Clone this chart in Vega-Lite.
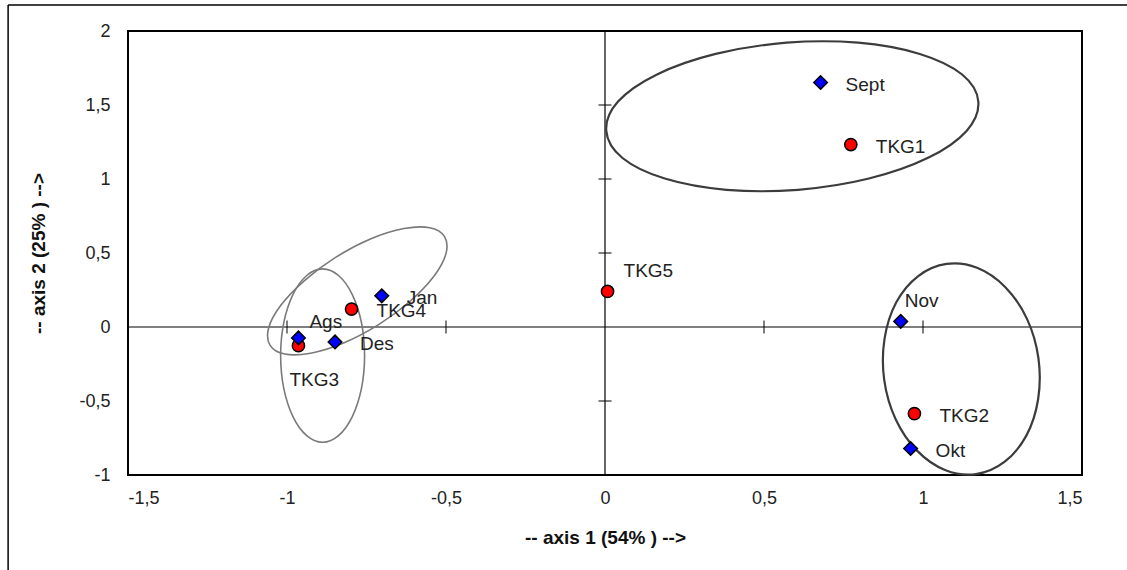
{
  "$schema": "https://vega.github.io/schema/vega-lite/v6.json",
  "width": 954,
  "height": 444,
  "autosize": {"type": "none"},
  "padding": {"left": 128, "top": 31, "right": 45, "bottom": 95},
  "background": "white",
  "config": {
    "view": {"stroke": "#000000", "strokeWidth": 2},
    "font": "Liberation Sans",
    "axis": {"grid": false, "domain": false, "ticks": false, "labelFont": "Liberation Sans", "labelFontSize": 18, "labelColor": "#222222", "titleFont": "Liberation Sans", "titleFontSize": 19, "titleFontWeight": "bold", "titleColor": "#111111"}
  },
  "datasets": {
    "points": [
      {"name": "TKG1", "type": "site", "x": 0.773, "y": 1.233},
      {"name": "TKG2", "type": "site", "x": 0.973, "y": -0.585},
      {"name": "TKG3", "type": "site", "x": -0.964, "y": -0.126},
      {"name": "TKG4", "type": "site", "x": -0.797, "y": 0.121},
      {"name": "TKG5", "type": "site", "x": 0.008, "y": 0.24},
      {"name": "Sept", "type": "month", "x": 0.678, "y": 1.652},
      {"name": "Okt", "type": "month", "x": 0.961, "y": -0.821},
      {"name": "Nov", "type": "month", "x": 0.93, "y": 0.038},
      {"name": "Des", "type": "month", "x": -0.849, "y": -0.101},
      {"name": "Jan", "type": "month", "x": -0.702, "y": 0.211},
      {"name": "Ags", "type": "month", "x": -0.964, "y": -0.074}
    ],
    "ellipses": [
      {"e": "A", "i": 0, "x": 1.174, "y": 1.523},
      {"e": "A", "i": 1, "x": 1.137, "y": 1.325},
      {"e": "A", "i": 2, "x": 1.016, "y": 1.143},
      {"e": "A", "i": 3, "x": 0.83, "y": 1.003},
      {"e": "A", "i": 4, "x": 0.607, "y": 0.927},
      {"e": "A", "i": 5, "x": 0.382, "y": 0.927},
      {"e": "A", "i": 6, "x": 0.188, "y": 1.003},
      {"e": "A", "i": 7, "x": 0.055, "y": 1.142},
      {"e": "A", "i": 8, "x": 0.004, "y": 1.325},
      {"e": "A", "i": 9, "x": 0.041, "y": 1.523},
      {"e": "A", "i": 10, "x": 0.162, "y": 1.705},
      {"e": "A", "i": 11, "x": 0.348, "y": 1.845},
      {"e": "A", "i": 12, "x": 0.571, "y": 1.921},
      {"e": "A", "i": 13, "x": 0.796, "y": 1.921},
      {"e": "A", "i": 14, "x": 0.99, "y": 1.845},
      {"e": "A", "i": 15, "x": 1.123, "y": 1.706},
      {"e": "B", "i": 0, "x": 1.363, "y": -0.211},
      {"e": "B", "i": 1, "x": 1.327, "y": 0.055},
      {"e": "B", "i": 2, "x": 1.259, "y": 0.269},
      {"e": "B", "i": 3, "x": 1.17, "y": 0.4},
      {"e": "B", "i": 4, "x": 1.074, "y": 0.426},
      {"e": "B", "i": 5, "x": 0.985, "y": 0.344},
      {"e": "B", "i": 6, "x": 0.916, "y": 0.167},
      {"e": "B", "i": 7, "x": 0.879, "y": -0.08},
      {"e": "B", "i": 8, "x": 0.878, "y": -0.357},
      {"e": "B", "i": 9, "x": 0.914, "y": -0.623},
      {"e": "B", "i": 10, "x": 0.982, "y": -0.837},
      {"e": "B", "i": 11, "x": 1.071, "y": -0.968},
      {"e": "B", "i": 12, "x": 1.167, "y": -0.994},
      {"e": "B", "i": 13, "x": 1.256, "y": -0.912},
      {"e": "B", "i": 14, "x": 1.325, "y": -0.734},
      {"e": "B", "i": 15, "x": 1.362, "y": -0.488},
      {"e": "C", "i": 0, "x": -0.505, "y": 0.612},
      {"e": "C", "i": 1, "x": -0.5, "y": 0.496},
      {"e": "C", "i": 2, "x": -0.538, "y": 0.343},
      {"e": "C", "i": 3, "x": -0.613, "y": 0.174},
      {"e": "C", "i": 4, "x": -0.712, "y": 0.016},
      {"e": "C", "i": 5, "x": -0.822, "y": -0.108},
      {"e": "C", "i": 6, "x": -0.926, "y": -0.177},
      {"e": "C", "i": 7, "x": -1.007, "y": -0.183},
      {"e": "C", "i": 8, "x": -1.053, "y": -0.124},
      {"e": "C", "i": 9, "x": -1.058, "y": -0.008},
      {"e": "C", "i": 10, "x": -1.02, "y": 0.145},
      {"e": "C", "i": 11, "x": -0.945, "y": 0.314},
      {"e": "C", "i": 12, "x": -0.846, "y": 0.472},
      {"e": "C", "i": 13, "x": -0.736, "y": 0.596},
      {"e": "C", "i": 14, "x": -0.632, "y": 0.665},
      {"e": "C", "i": 15, "x": -0.551, "y": 0.671},
      {"e": "D", "i": 0, "x": -0.756, "y": -0.193},
      {"e": "D", "i": 1, "x": -0.766, "y": 0.031},
      {"e": "D", "i": 2, "x": -0.795, "y": 0.221},
      {"e": "D", "i": 3, "x": -0.838, "y": 0.348},
      {"e": "D", "i": 4, "x": -0.888, "y": 0.393},
      {"e": "D", "i": 5, "x": -0.938, "y": 0.348},
      {"e": "D", "i": 6, "x": -0.981, "y": 0.221},
      {"e": "D", "i": 7, "x": -1.01, "y": 0.031},
      {"e": "D", "i": 8, "x": -1.02, "y": -0.193},
      {"e": "D", "i": 9, "x": -1.01, "y": -0.417},
      {"e": "D", "i": 10, "x": -0.981, "y": -0.607},
      {"e": "D", "i": 11, "x": -0.938, "y": -0.734},
      {"e": "D", "i": 12, "x": -0.888, "y": -0.779},
      {"e": "D", "i": 13, "x": -0.838, "y": -0.734},
      {"e": "D", "i": 14, "x": -0.795, "y": -0.607},
      {"e": "D", "i": 15, "x": -0.766, "y": -0.417}
    ],
    "xticks": [{"v": -1}, {"v": -0.5}, {"v": 0.5}, {"v": 1}],
    "yticks": [{"v": -0.5}, {"v": 0.5}, {"v": 1}, {"v": 1.5}],
    "one": [{"k": 0}]
  },
  "layer": [
    {
      "data": {"name": "points"},
      "mark": {"type": "point", "opacity": 0},
      "encoding": {
        "x": {"field": "x", "type": "quantitative", "scale": {"domain": [-1.5, 1.5], "nice": false, "zero": false},
          "axis": {"values": [-1.5, -1, -0.5, 0, 0.5, 1, 1.5], "labelExpr": "replace(toString(datum.value), '.', ',')", "labelPadding": 14, "title": "-- axis 1 (54% ) -->", "titlePadding": 21}},
        "y": {"field": "y", "type": "quantitative", "scale": {"domain": [-1, 2], "nice": false, "zero": false},
          "axis": {"values": [-1, -0.5, 0, 0.5, 1, 1.5, 2], "labelExpr": "replace(toString(datum.value), '.', ',')", "labelPadding": 18, "title": "-- axis 2 (25% ) -->", "titlePadding": 30}}
      }
    },
    {
      "data": {"name": "one"},
      "mark": {"type": "rule", "stroke": "#000000", "strokeWidth": 1.5, "clip": false},
      "encoding": {
        "x": {"datum": -1.877, "type": "quantitative"},
        "x2": {"datum": 1.65},
        "y": {"datum": 2.176, "type": "quantitative"}
      }
    },
    {
      "data": {"name": "one"},
      "mark": {"type": "rule", "stroke": "#000000", "strokeWidth": 1.5, "clip": false},
      "encoding": {
        "x": {"datum": -1.877, "type": "quantitative"},
        "y": {"datum": 2.176, "type": "quantitative"},
        "y2": {"datum": -1.65}
      }
    },
    {
      "data": {"name": "one"},
      "mark": {"type": "rule", "stroke": "#000000", "strokeWidth": 1.2},
      "encoding": {"x": {"datum": 0, "type": "quantitative"}}
    },
    {
      "data": {"name": "one"},
      "mark": {"type": "rule", "stroke": "#000000", "strokeWidth": 1.2},
      "encoding": {"y": {"datum": 0, "type": "quantitative"}}
    },
    {
      "data": {"name": "xticks"},
      "mark": {"type": "tick", "orient": "vertical", "size": 13, "thickness": 1, "color": "#000000", "opacity": 1},
      "encoding": {"x": {"field": "v", "type": "quantitative"}, "y": {"datum": 0, "type": "quantitative"}}
    },
    {
      "data": {"name": "yticks"},
      "mark": {"type": "tick", "orient": "horizontal", "size": 13, "thickness": 1, "color": "#000000", "opacity": 1},
      "encoding": {"y": {"field": "v", "type": "quantitative"}, "x": {"datum": 0, "type": "quantitative"}}
    },
    {
      "data": {"name": "ellipses"},
      "transform": [{"filter": "datum.e === 'A' || datum.e === 'B'"}],
      "mark": {"type": "line", "interpolate": "cardinal-closed", "stroke": "#3c3c3c", "strokeWidth": 2.2},
      "encoding": {
        "x": {"field": "x", "type": "quantitative"},
        "y": {"field": "y", "type": "quantitative"},
        "detail": {"field": "e"},
        "order": {"field": "i", "type": "quantitative"}
      }
    },
    {
      "data": {"name": "ellipses"},
      "transform": [{"filter": "datum.e === 'C' || datum.e === 'D'"}],
      "mark": {"type": "line", "interpolate": "cardinal-closed", "stroke": "#7a7a7a", "strokeWidth": 1.6},
      "encoding": {
        "x": {"field": "x", "type": "quantitative"},
        "y": {"field": "y", "type": "quantitative"},
        "detail": {"field": "e"},
        "order": {"field": "i", "type": "quantitative"}
      }
    },
    {
      "data": {"name": "points"},
      "mark": {"type": "point", "filled": true, "stroke": "#000000", "strokeWidth": 1.5, "opacity": 1},
      "encoding": {
        "x": {"field": "x", "type": "quantitative"},
        "y": {"field": "y", "type": "quantitative"},
        "shape": {"field": "type", "type": "nominal", "scale": {"domain": ["site", "month"], "range": ["circle", "diamond"]}, "legend": null},
        "fill": {"field": "type", "type": "nominal", "scale": {"domain": ["site", "month"], "range": ["#ff0000", "#0000ff"]}, "legend": null},
        "size": {"field": "type", "type": "nominal", "scale": {"domain": ["site", "month"], "range": [150, 185]}, "legend": null}
      }
    },
    {
      "data": {"name": "points"},
      "transform": [{"filter": "indexof(['Sept','TKG1','TKG2','Okt','Jan','TKG4','Des'], datum.name) >= 0"}],
      "mark": {"type": "text", "align": "left", "baseline": "middle", "dx": 25, "dy": 2, "fontSize": 19, "font": "Liberation Sans", "fill": "#222222"},
      "encoding": {"x": {"field": "x", "type": "quantitative"}, "y": {"field": "y", "type": "quantitative"}, "text": {"field": "name"}}
    },
    {
      "data": {"name": "points"},
      "transform": [{"filter": "datum.name === 'TKG5'"}],
      "mark": {"type": "text", "align": "left", "baseline": "middle", "dx": 16, "dy": -20, "fontSize": 19, "font": "Liberation Sans", "fill": "#222222"},
      "encoding": {"x": {"field": "x", "type": "quantitative"}, "y": {"field": "y", "type": "quantitative"}, "text": {"field": "name"}}
    },
    {
      "data": {"name": "points"},
      "transform": [{"filter": "datum.name === 'Nov'"}],
      "mark": {"type": "text", "align": "left", "baseline": "middle", "dx": 4, "dy": -20, "fontSize": 19, "font": "Liberation Sans", "fill": "#222222"},
      "encoding": {"x": {"field": "x", "type": "quantitative"}, "y": {"field": "y", "type": "quantitative"}, "text": {"field": "name"}}
    },
    {
      "data": {"name": "points"},
      "transform": [{"filter": "datum.name === 'Ags'"}],
      "mark": {"type": "text", "align": "left", "baseline": "middle", "dx": 11, "dy": -16, "fontSize": 19, "font": "Liberation Sans", "fill": "#222222"},
      "encoding": {"x": {"field": "x", "type": "quantitative"}, "y": {"field": "y", "type": "quantitative"}, "text": {"field": "name"}}
    },
    {
      "data": {"name": "points"},
      "transform": [{"filter": "datum.name === 'TKG3'"}],
      "mark": {"type": "text", "align": "left", "baseline": "middle", "dx": -9, "dy": 34, "fontSize": 19, "font": "Liberation Sans", "fill": "#222222"},
      "encoding": {"x": {"field": "x", "type": "quantitative"}, "y": {"field": "y", "type": "quantitative"}, "text": {"field": "name"}}
    }
  ]
}
